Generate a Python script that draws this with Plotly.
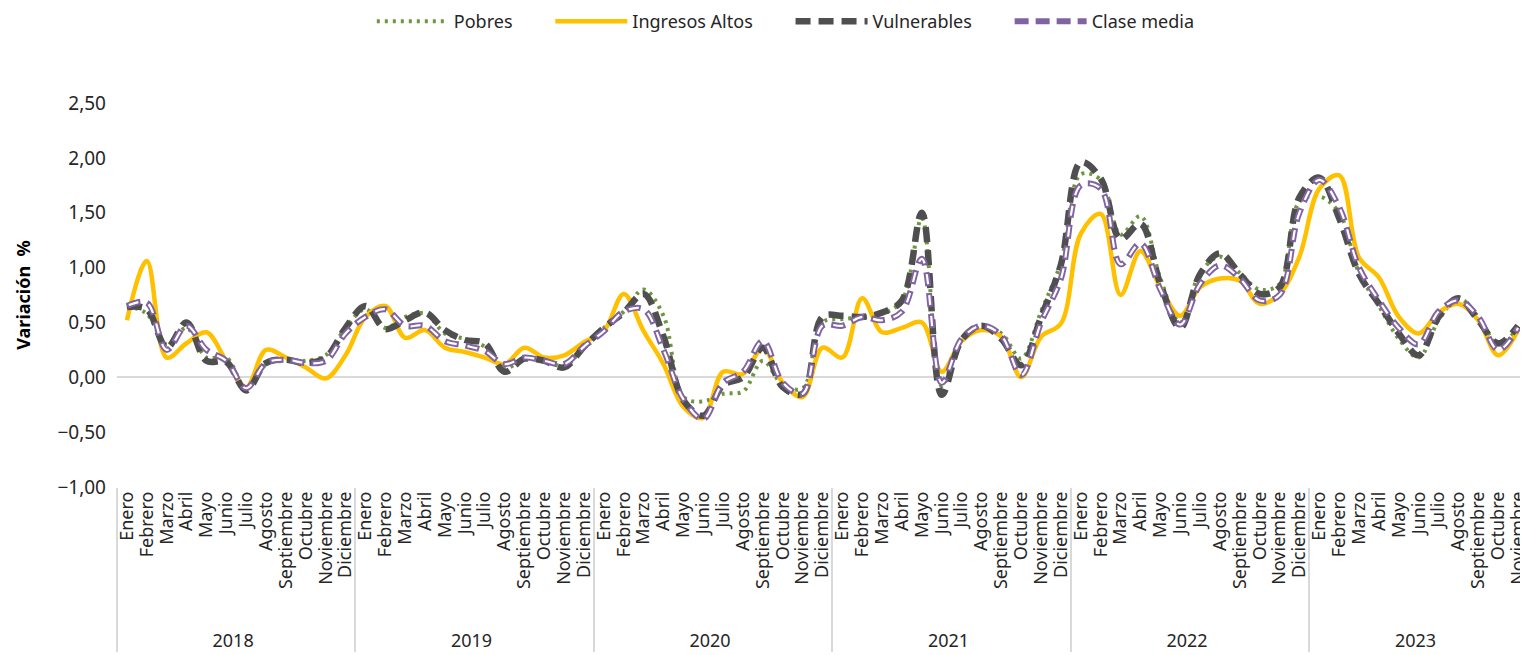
import plotly.graph_objects as go

# --- data -------------------------------------------------------------------
meses = ["Enero", "Febrero", "Marzo", "Abril", "Mayo", "Junio", "Julio",
         "Agosto", "Septiembre", "Octubre", "Noviembre", "Diciembre"]
anios = ["2018", "2019", "2020", "2021", "2022", "2023"]
meses_por_anio = [12, 12, 12, 12, 12, 11]

pobres = [
    0.65, 0.58, 0.30, 0.45, 0.18, 0.18, -0.10, 0.12, 0.15, 0.15, 0.20, 0.45,
    0.62, 0.45, 0.55, 0.58, 0.40, 0.35, 0.28, 0.08, 0.17, 0.16, 0.10, 0.28,
    0.45, 0.60, 0.80, 0.56, -0.18, -0.22, -0.15, -0.13, 0.15, -0.07, -0.10, 0.50,
    0.53, 0.55, 0.58, 0.70, 1.45, -0.08, 0.35, 0.45, 0.40, 0.17, 0.60, 1.05,
    1.85, 1.80, 1.30, 1.47, 0.90, 0.50, 0.95, 1.10, 0.95, 0.80, 0.85, 1.60,
    1.65, 1.50, 0.95, 0.65, 0.35, 0.18, 0.52, 0.72, 0.55, 0.30, 0.45,
]
ingresos_altos = [
    0.52, 1.06, 0.18, 0.31, 0.41, 0.15, -0.09, 0.25, 0.18, 0.09, -0.01, 0.20,
    0.55, 0.65, 0.36, 0.43, 0.27, 0.23, 0.18, 0.12, 0.27, 0.18, 0.20, 0.32,
    0.42, 0.76, 0.42, 0.12, -0.27, -0.37, 0.05, 0.03, 0.27, -0.05, -0.18, 0.27,
    0.18, 0.72, 0.41, 0.45, 0.50, 0.05, 0.33, 0.43, 0.37, 0.00, 0.37, 0.49,
    1.31, 1.49, 0.75, 1.15, 0.82, 0.56, 0.82, 0.90, 0.88, 0.67, 0.76, 1.10,
    1.72, 1.84, 1.09, 0.91, 0.55, 0.40, 0.59, 0.67, 0.52, 0.20, 0.43,
]
vulnerables = [
    0.64, 0.62, 0.27, 0.50, 0.15, 0.14, -0.12, 0.13, 0.16, 0.13, 0.18, 0.45,
    0.65, 0.44, 0.52, 0.59, 0.43, 0.34, 0.31, 0.05, 0.17, 0.15, 0.09, 0.28,
    0.45, 0.59, 0.76, 0.37, -0.21, -0.35, -0.07, 0.00, 0.27, -0.09, -0.15, 0.55,
    0.56, 0.55, 0.59, 0.70, 1.50, -0.16, 0.34, 0.47, 0.35, 0.11, 0.55, 1.03,
    1.96, 1.81, 1.26, 1.40, 0.85, 0.45, 0.94, 1.13, 0.94, 0.76, 0.82, 1.64,
    1.82, 1.45, 0.94, 0.67, 0.40, 0.20, 0.55, 0.72, 0.52, 0.31, 0.47,
]
clase_media = [
    0.65, 0.68, 0.25, 0.47, 0.25, 0.15, -0.10, 0.13, 0.16, 0.13, 0.15, 0.40,
    0.55, 0.62, 0.47, 0.47, 0.33, 0.29, 0.24, 0.12, 0.18, 0.15, 0.12, 0.28,
    0.42, 0.60, 0.62, 0.25, -0.20, -0.38, -0.05, 0.05, 0.33, -0.05, -0.15, 0.47,
    0.47, 0.55, 0.52, 0.60, 1.08, -0.05, 0.35, 0.47, 0.38, 0.02, 0.50, 0.90,
    1.75, 1.72, 1.03, 1.22, 0.80, 0.48, 0.85, 1.02, 0.90, 0.70, 0.75, 1.50,
    1.80, 1.55, 1.00, 0.70, 0.45, 0.30, 0.60, 0.70, 0.55, 0.25, 0.45,
]

# multicategory x: [year, month]; the <br> drops the year row a bit lower
x_anio = []
x_mes = []
for anio, n in zip(anios, meses_por_anio):
    x_anio += ["<br>" + anio] * n
    x_mes += meses[:n]
x = [x_anio, x_mes]

FONT = "Noto Sans"
TXT = "#262626"
GAP = "\u00a0" * 7  # extra room between legend entries

fig = go.Figure()

fig.add_trace(go.Scatter(
    x=x, y=pobres, name="Pobres" + GAP, mode="lines",
    line=dict(color="#6E963F", width=4, dash="3px,5px", shape="spline", smoothing=1),
))
fig.add_trace(go.Scatter(
    x=x, y=ingresos_altos, name="Ingresos Altos" + GAP, mode="lines",
    line=dict(color="#FFC000", width=4.5, shape="spline", smoothing=1),
))
fig.add_trace(go.Scatter(
    x=x, y=vulnerables, name="Vulnerables" + GAP, mode="lines",
    line=dict(color="#4F4F4F", width=6.5, dash="15px,8px", shape="spline", smoothing=1),
))
# clase media: purple dash with white core to mimic the outlined dashes
fig.add_trace(go.Scatter(
    x=x, y=clase_media, name="Clase media", mode="lines",
    line=dict(color="#8064A2", width=6, dash="14px,7px", shape="spline", smoothing=1),
))
fig.add_trace(go.Scatter(
    x=x, y=clase_media, name="Clase media", mode="lines", showlegend=False,
    hoverinfo="skip",
    line=dict(color="white", width=2.2, dash="0px,2px,10px,9px", shape="spline", smoothing=1),
))

# page body has an 8px margin, so the figure is sized/offset to compensate
fig.update_layout(
    width=1520, height=647,
    paper_bgcolor="white", plot_bgcolor="white",
    separators=",.",
    font=dict(family=FONT, size=18, color=TXT),
    margin=dict(l=109, r=0, t=95, b=168, autoexpand=False),
    showlegend=True,
    legend=dict(orientation="h", x=0.474, xanchor="center",
                y=1.26, yanchor="top",
                font=dict(size=18, color=TXT), itemwidth=72, traceorder="normal"),
    xaxis=dict(
        type="multicategory", tickangle=-90, showgrid=False, showline=False,
        ticks="", dtick=1, showdividers=True, dividercolor="#d9d9d9", dividerwidth=2,
        tickfont=dict(size=18, color=TXT), automargin=False,
        range=[-0.5, 70.5],
    ),
    yaxis=dict(
        range=[-1, 2.5], dtick=0.5, tickformat=".2f", showgrid=False,
        zeroline=True, zerolinecolor="#d9d9d9", zerolinewidth=2,
        showline=False, ticks="", ticklabelstandoff=10,
        tickfont=dict(size=19, color=TXT), automargin=False,
        title=dict(text="<b>Variación  %</b>", font=dict(size=18, color="black"), standoff=22),
    ),
)

fig.write_html("out.html")
